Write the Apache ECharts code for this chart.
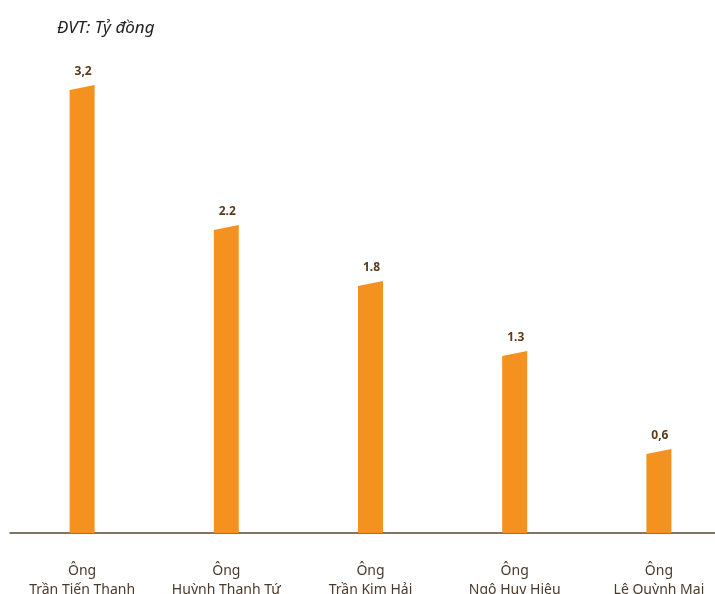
<!DOCTYPE html>
<html><head><meta charset="utf-8">
<script src="https://cdn.jsdelivr.net/npm/echarts@6/dist/echarts.min.js"></script>
<style>html,body{margin:0;padding:0;background:#fff}#c{width:715px;height:594px}</style>
</head><body><div id="c"></div>
<script>
const categories = ['Ông\nTrần Tiến Thanh','Ông\nHuỳnh Thanh Tứ','Ông\nTrần Kim Hải','Ông\nNgô Huy Hiệu','Ông\nLê Quỳnh Mai'];
const values = [3.2, 2.2, 1.8, 1.3, 0.6];
const valueLabels = ['3,2', '2.2', '1.8', '1.3', '0,6'];

const chart = echarts.init(document.getElementById('c'));
chart.setOption({
  animation: false,
  title: {
    text: 'ĐVT: Tỷ đồng', left: 52, top: 15,
    textStyle: {fontFamily: 'Noto Sans', fontStyle: 'italic', fontWeight: 'normal', fontSize: 17, color: '#222'}
  },
  grid: {left: 10, right: -16, top: 43, bottom: 61, containLabel: false, outerBoundsMode: 'none'},
  xAxis: {
    type: 'category', data: categories,
    axisLine: {show: true, lineStyle: {color: '#5a4632', width: 1.5}},
    axisTick: {show: false},
    axisLabel: {interval: 0, margin: 29, lineHeight: 19, fontFamily: 'Noto Sans', fontSize: 14, color: '#4a3a2c'}
  },
  yAxis: {type: 'value', min: 0, max: 3.5, show: false, splitLine: {show: false}},
  series: [{
    type: 'custom',
    clip: false,
    data: values.map((v, i) => [i, v]),
    renderItem: function (params, api) {
      const i = api.value(0), v = api.value(1);
      const base = api.coord([i, 0]);
      const top = api.coord([i, v]);
      const w = 25, slant = 5;
      const x0 = base[0] - w / 2, x1 = base[0] + w / 2;
      return {
        type: 'group',
        children: [{
          type: 'polygon',
          shape: {points: [[x0, base[1]], [x1, base[1]], [x1, top[1]], [x0, top[1] + slant]]},
          style: {fill: '#F5921F'}
        }, {
          type: 'text',
          style: {
            text: valueLabels[params.dataIndex], x: base[0] + 1, y: top[1] - 13,
            align: 'center', verticalAlign: 'middle',
            fontFamily: 'Noto Sans', fontWeight: 'bold', fontSize: 12, fill: '#5e3a17'
          }
        }]
      };
    }
  }]
});
</script></body></html>
